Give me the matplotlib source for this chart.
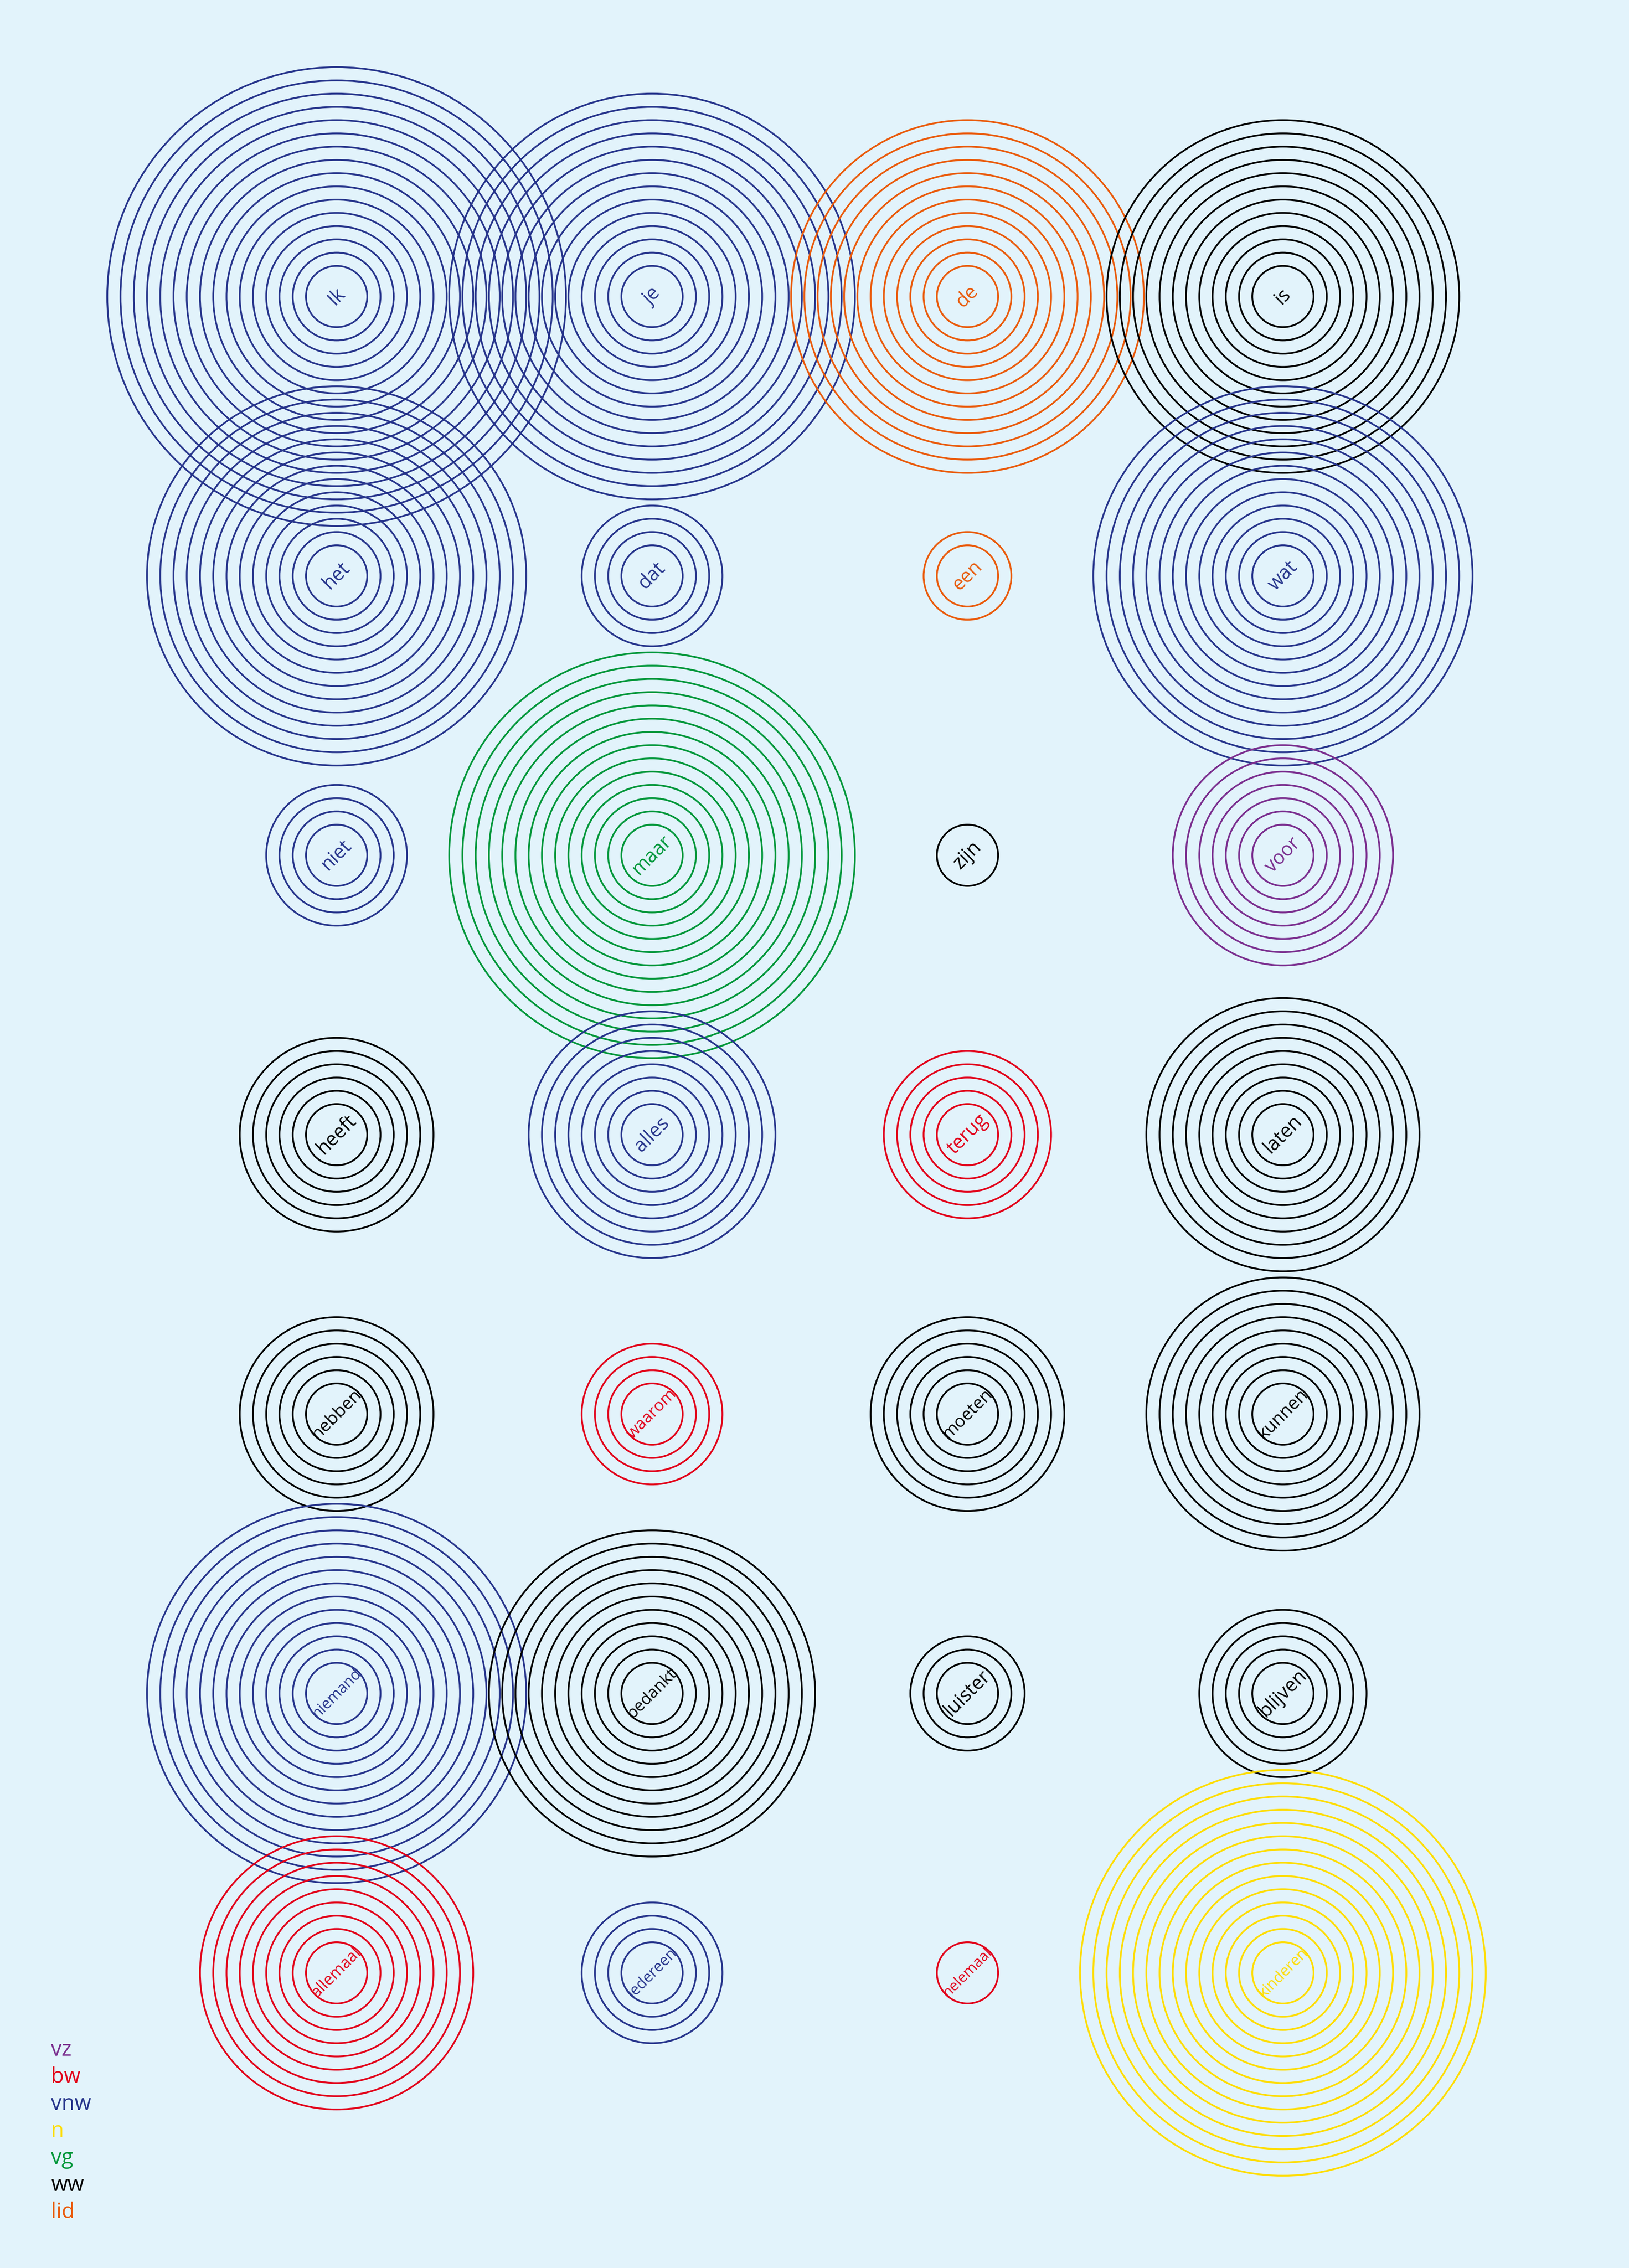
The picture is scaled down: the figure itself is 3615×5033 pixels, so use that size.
import matplotlib
matplotlib.use('AGG')
import matplotlib.pyplot as plt
from matplotlib.patches import Circle

# words in reading order (4 per row), part of speech and number of rings
words = ['Ik', 'je', 'de', 'is',
         'het', 'dat', 'een', 'wat',
         'niet', 'maar', 'zijn', 'voor',
         'heeft', 'alles', 'terug', 'laten',
         'hebben', 'waarom', 'moeten', 'kunnen',
         'niemand', 'bedankt', 'luister', 'blijven',
         'allemaal', 'iedereen', 'helemaal', 'kinderen']
pos = ['vnw', 'vnw', 'lid', 'ww',
       'vnw', 'vnw', 'lid', 'vnw',
       'vnw', 'vg', 'ww', 'vz',
       'ww', 'vnw', 'bw', 'ww',
       'ww', 'bw', 'ww', 'ww',
       'vnw', 'ww', 'ww', 'ww',
       'bw', 'vnw', 'bw', 'n']
rings = [16, 14, 12, 12,
         13, 4, 2, 13,
         4, 14, 1, 7,
         6, 8, 5, 9,
         6, 4, 6, 9,
         13, 11, 3, 5,
         9, 4, 1, 14]

legend_labels = ['vz', 'bw', 'vnw', 'n', 'vg', 'ww', 'lid']
pos_colors = {'vz': '#7b2f8f', 'bw': '#e2001a', 'vnw': '#27358c', 'n': '#ffdd00',
              'vg': '#00973a', 'ww': '#000000', 'lid': '#ea5b0c'}

W, H = 3615, 5033
bg = '#e2f3fb'
ncols = 4
x0, dx = 747, 700
y0, dy = 658, 620
r0, dr = 68, 29.4
lw = 2.8
label_fs = 31
max_w = 140

fig = plt.figure(figsize=(W / 100, H / 100), dpi=100, facecolor=bg)
ax = fig.add_axes([0, 0, 1, 1])
ax.set_facecolor(bg)
ax.set_xlim(0, W)
ax.set_ylim(H, 0)
ax.set_aspect('equal')
ax.axis('off')

renderer = fig.canvas.get_renderer()

for i, (w, p, n) in enumerate(zip(words, pos, rings)):
    cx = x0 + dx * (i % ncols)
    cy = y0 + dy * (i // ncols)
    col = pos_colors[p]
    for k in range(n):
        ax.add_patch(Circle((cx, cy), r0 + dr * k, fill=False, ec=col, lw=lw))
    t = ax.text(cx, cy, w, color=col, fontsize=label_fs, family=['Open Sans', 'DejaVu Sans'],
                ha='center', va='center', rotation_mode='anchor')
    tw = t.get_window_extent(renderer).width
    if tw > max_w:
        t.set_fontsize(label_fs * max_w / tw)
    t.set_rotation(45)

for j, lab in enumerate(legend_labels):
    ax.text(113, 4562 + 60 * j, lab, color=pos_colors[lab], fontsize=34,
            family=['Open Sans', 'DejaVu Sans'], ha='left', va='baseline')

fig.savefig('out.png', dpi=100, facecolor=bg)
